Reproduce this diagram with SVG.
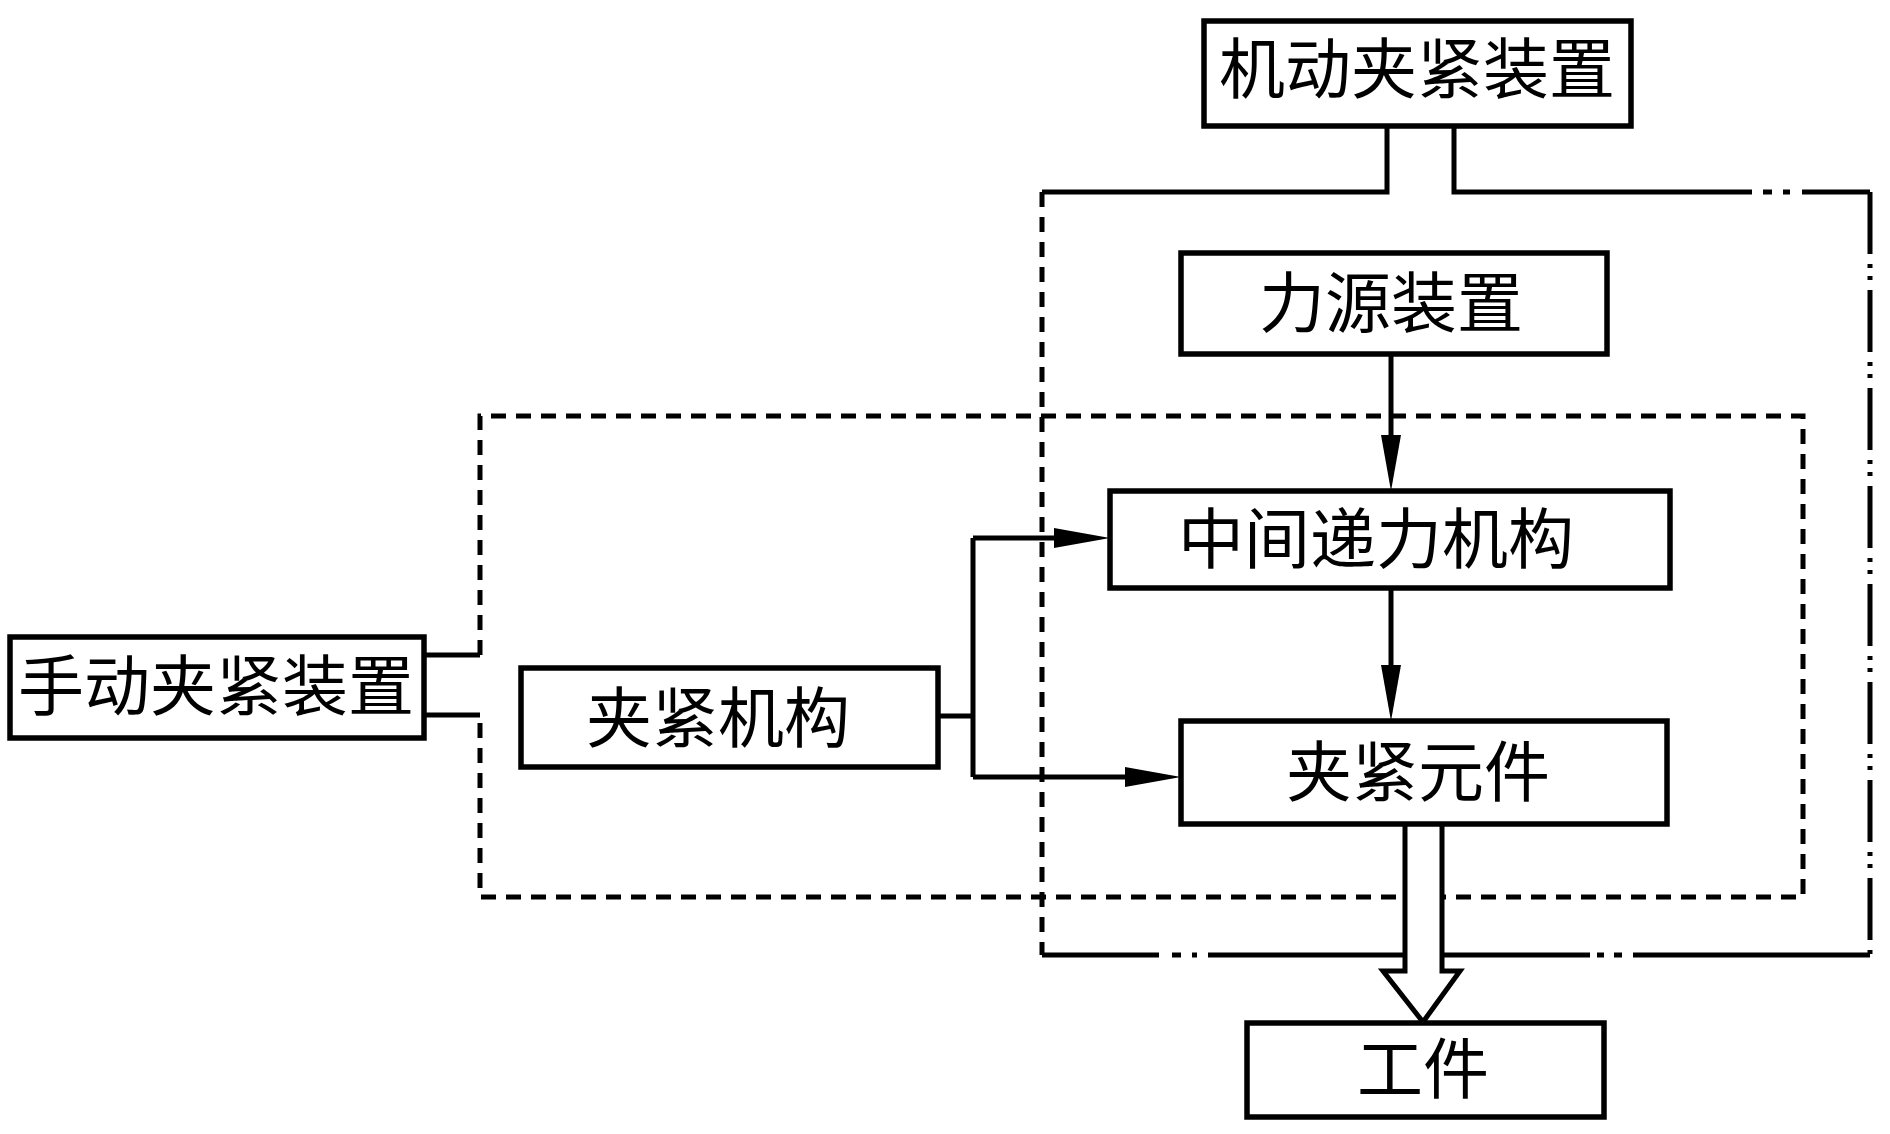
<svg xmlns="http://www.w3.org/2000/svg" width="1890" height="1134" viewBox="0 0 1890 1134">
<style>
.box{fill:#fff;stroke:#000;stroke-width:5.5}
.ln{fill:none;stroke:#000;stroke-width:5}
.dash{fill:none;stroke:#000;stroke-width:5;stroke-dasharray:15 10}
.dashdot{fill:none;stroke:#000;stroke-width:5;stroke-dasharray:62 10 4 8 4 10}
.t{font-family:'Liberation Serif','Noto Sans CJK SC',serif;font-size:66px;fill:#000;text-anchor:middle;dominant-baseline:central}
</style>
<defs>
<marker id="ah" viewBox="0 0 56 20" refX="36" refY="10" markerWidth="56" markerHeight="20" markerUnits="userSpaceOnUse" orient="auto">
<path d="M0,0 L56,10 L0,20 z" fill="#000"/>
</marker>
</defs>
<rect width="1890" height="1134" fill="#fff"/>
<g id="connectors">
<path class="ln" d="M1387,126 V192 H1042"/>
<path class="ln" d="M1454,126 V192 H1752"/>
<path class="ln" d="M1763,192 H1772 M1783,192 H1790"/>
<path class="ln" d="M1802,192 H1870"/>
<path class="dash" d="M1042,192 V955"/>
<path class="dashdot" d="M1870,192 V955"/>
<path class="ln" d="M1042,955 H1159 M1172,955 H1181 M1192,955 H1197 M1208,955 H1590 M1597,955 H1604 M1614,955 H1622 M1633,955 H1870"/>
<path class="ln" d="M424,655 H480"/>
<path class="ln" d="M424,715 H480"/>
<path class="dash" d="M480,655 V416 H1803 V897 H480 V715"/>
<path class="ln" d="M1391,354 V471" marker-end="url(#ah)"/>
<path class="ln" d="M1391,588 V701" marker-end="url(#ah)"/>
<path class="ln" d="M938,716 H973"/>
<path class="ln" d="M973,538 V777"/>
<path class="ln" d="M973,538 H1090" marker-end="url(#ah)"/>
<path class="ln" d="M973,777 H1161" marker-end="url(#ah)"/>
<path d="M1405,824 V971 H1383 L1423,1022 L1460,971 H1442 V824" fill="#fff" stroke="#000" stroke-width="5" stroke-linejoin="miter"/>
</g>
<g id="n-jidong">
<rect class="box" x="1204" y="21" width="427" height="105"/>
<text class="t" x="1417" y="70">机动夹紧装置</text>
</g>
<g id="n-liyuan">
<rect class="box" x="1181" y="253" width="426" height="101"/>
<text class="t" x="1391" y="304">力源装置</text>
</g>
<g id="n-zhongjian">
<rect class="box" x="1110" y="491" width="560" height="97"/>
<text class="t" x="1376" y="540">中间递力机构</text>
</g>
<g id="n-shoudong">
<rect class="box" x="10" y="637" width="414" height="101"/>
<text class="t" x="216" y="687">手动夹紧装置</text>
</g>
<g id="n-jiajinjigou">
<rect class="box" x="521" y="668" width="417" height="99"/>
<text class="t" x="718" y="719">夹紧机构</text>
</g>
<g id="n-jiajinyuanjian">
<rect class="box" x="1181" y="721" width="486" height="103"/>
<text class="t" x="1418" y="773">夹紧元件</text>
</g>
<g id="n-gongjian">
<rect class="box" x="1247" y="1023" width="357" height="94"/>
<text class="t" x="1423" y="1070">工件</text>
</g>
</svg>
